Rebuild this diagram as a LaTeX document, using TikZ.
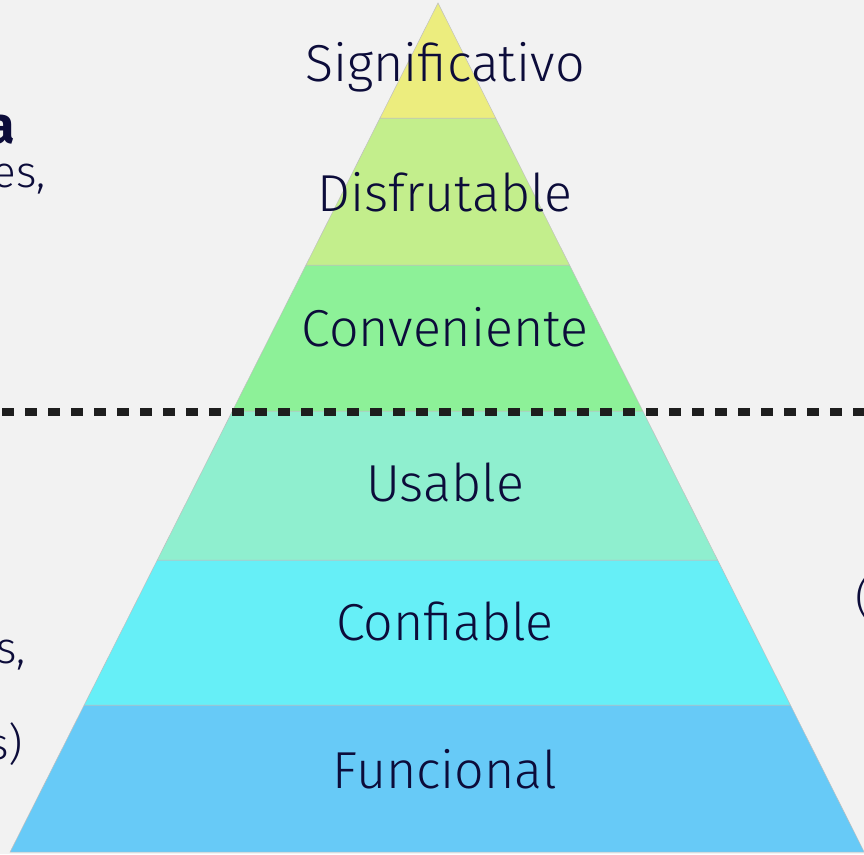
\documentclass[tikz,border=0pt]{standalone}
\usepackage{fontspec}
\setmainfont{Fira Sans Light}
\newfontfamily\boldfam{Fira Sans Bold}
\definecolor{bgc}{RGB}{242,242,242}
\definecolor{txc}{RGB}{12,12,58}
\definecolor{cSig}{RGB}{236,237,126}
\definecolor{cDis}{RGB}{195,238,140}
\definecolor{cCon}{RGB}{141,241,152}
\definecolor{cUsa}{RGB}{143,239,207}
\definecolor{cCnf}{RGB}{102,239,247}
\definecolor{cFun}{RGB}{103,202,247}
\definecolor{dotc}{RGB}{30,30,30}
\tikzset{
  layer/.style={draw=black!25, line width=0.5pt},
  lbl/.style={anchor=base, text=txc, font=\fontsize{52}{62}\selectfont, inner sep=0pt},
  side/.style={text=txc, font=\fontsize{44}{52}\selectfont, inner sep=0pt},
  sep/.style={draw=dotc, line width=8pt, dash pattern=on 12pt off 11pt}
}
\begin{document}
\begin{tikzpicture}[x=1pt,y=-1pt]
\fill[bgc] (0,0) rectangle (864,854);
\useasboundingbox (0,0) rectangle (864,854);
\clip (0,0) rectangle (864,854);
% layers
\filldraw[layer, fill=cFun] (84.2,705) -- (790.4,705) -- (864.2,852) -- (10.1,852) -- cycle;
\filldraw[layer, fill=cCnf] (157.3,560) -- (717.6,560) -- (790.4,705) -- (84.2,705) -- cycle;
\filldraw[layer, fill=cUsa] (232.4,411) -- (642.8,411) -- (717.6,560) -- (157.3,560) -- cycle;
\filldraw[layer, fill=cCon] (306.0,265) -- (569.5,265) -- (642.8,411) -- (232.4,411) -- cycle;
\filldraw[layer, fill=cDis] (380.0,118) -- (495.7,118) -- (569.5,265) -- (306.0,265) -- cycle;
\filldraw[layer, fill=cSig] (438,3) -- (495.7,118) -- (380.0,118) -- cycle;
% separator
\coordinate (sepL) at (2,412);
\coordinate (sepR) at (870,412);
\draw[sep] (sepL) -- (sepR);
% labels
\node[lbl] (sig) at (445,81) {Significativo};
\node[lbl] (dis) at (445,211) {Disfrutable};
\node[lbl] (con) at (445,346) {Conveniente};
\node[lbl] (usa) at (445,501) {Usable};
\node[lbl] (cnf) at (445,640) {Confiable};
\node[lbl] (fun) at (445,788) {Funcional};
% clipped side texts
\node[side, anchor=base east, font=\boldfam\fontsize{52}{60}\selectfont] (a1) at (15,143) {a};
\node[side, anchor=base east] (a2) at (46,187) {es,};
\node[side, anchor=base east] (a3) at (26,663) {s,};
\node[side, anchor=base east] (a4) at (23,759) {s)};
\node[side, anchor=base west] (b1) at (855,613) {(};
\end{tikzpicture}
\end{document}
